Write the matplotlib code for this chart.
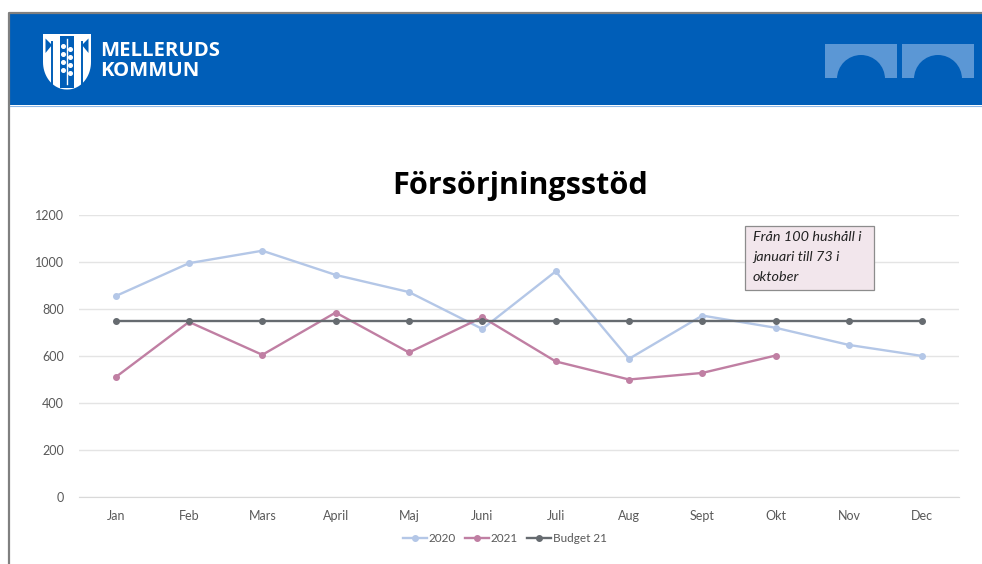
import numpy as np
import matplotlib
matplotlib.use('Agg')
import matplotlib.pyplot as plt
from matplotlib.patches import Rectangle, Polygon, Wedge

months = ['Jan', 'Feb', 'Mars', 'April', 'Maj', 'Juni', 'Juli', 'Aug', 'Sept', 'Okt', 'Nov', 'Dec']
values_2020 = [855, 995, 1048, 945, 872, 715, 960, 588, 772, 720, 647, 600]
values_2021 = [510, 745, 605, 785, 615, 765, 577, 500, 528, 602]
budget_21 = [750] * 12
yticks = [0, 200, 400, 600, 800, 1000, 1200]

W, H = 982, 564
BLUE = '#005EB8'
plt.rcParams['font.family'] = ['Lato', 'DejaVu Sans']

fig = plt.figure(figsize=(W / 100, H / 100), dpi=100, facecolor='white')

# page decoration in pixel coordinates
bg = fig.add_axes([0, 0, 1, 1])
bg.set_xlim(0, W)
bg.set_ylim(H, 0)
bg.axis('off')
bg.add_patch(Rectangle((10, 13), W - 10, 92, color=BLUE, lw=0))
bg.plot([9.5, 9.5, W], [H, 13, 13], color='#808080', lw=1.6, solid_capstyle='butt')
bg.plot([10, W], [105.5, 105.5], color='#8FB8E6', lw=0.8)

# shield
t = np.linspace(0, np.pi / 2, 20)
right = [(91 - 24 * (1 - np.cos(a)) * 0.98, 62 + 27.5 * np.sin(a)) for a in t]
left = [(43 + 24 * (1 - np.cos(a)) * 0.98, 62 + 27.5 * np.sin(a)) for a in t[::-1]]
shield = [(43, 34), (91, 34)] + right + left
bg.add_patch(Polygon(shield, closed=True, fc='white', ec='none'))
bg.add_patch(Rectangle((60, 36), 14, 52, fc=BLUE, ec='none'))
bg.plot([67, 67], [39, 84], color='white', lw=1)
for yy in [46, 54, 62, 70]:
    bg.plot([63.5, 70.5], [yy, yy + 2.5], 'o', color='white', ms=2.6)
for xx, flip in [(52, -1), (82, 1)]:
    bg.plot([xx, xx], [42, 84], color=BLUE, lw=1.4)
    bg.add_patch(Polygon([(xx, 45), (xx + flip * 6.5, 38.5), (xx + flip * 6.5, 53)], closed=True, fc=BLUE, ec='none'))
bg.text(100.5, 51.5, 'MELLERUDS', color='white', fontsize=14.6, fontweight='bold', va='center', ha='left',
        family=['Open Sans', 'DejaVu Sans'])
bg.text(100.5, 71, 'KOMMUN', color='white', fontsize=14.6, fontweight='bold', va='center', ha='left',
        family=['Open Sans', 'DejaVu Sans'])

# arches top right
for x0 in [825, 902]:
    bg.add_patch(Rectangle((x0, 44), 72.5, 33.5, fc='#5B97D5', ec='none'))
    bg.add_patch(Wedge((x0 + 36, 79), 24, 180, 360, fc=BLUE, ec='none'))
    bg.add_patch(Rectangle((x0 + 12, 77.5), 48, 3, fc=BLUE, ec='none'))

# chart
ax = fig.add_axes([79 / W, 1 - 497 / H, 880 / W, 282 / H])
ax.patch.set_alpha(0)
x = np.arange(len(months))
ax.plot(x, values_2020, color='#B4C7E7', lw=1.7, marker='o', ms=4, label='2020')
ax.plot(x[:len(values_2021)], values_2021, color='#C07FA3', lw=1.7, marker='o', ms=4, label='2021')
ax.plot(x, budget_21, color='#666B70', lw=1.7, marker='o', ms=4, label='Budget 21')
ax.set_xlim(-0.5, 11.5)
ax.set_ylim(0, 1200)
ax.set_xticks(x, months)
ax.set_yticks(yticks)
ax.grid(axis='y', color='#E4E4E4', lw=1)
ax.set_axisbelow(True)
ax.tick_params(length=0, labelsize=9, labelcolor='#595959', pad=9)
ax.tick_params(axis='y', pad=11)
for s in ['top', 'right', 'left']:
    ax.spines[s].set_visible(False)
ax.spines['bottom'].set_color('#D9D9D9')

ax.legend(loc='center', bbox_to_anchor=(0.484, -0.146), ncol=3, frameon=False, fontsize=8.5,
          labelcolor='#595959', handlelength=2.0, handletextpad=0.15, columnspacing=0.8)

bg.text(520, 186, 'Försörjningsstöd', fontsize=22.1, fontweight='bold', ha='center', va='center',
        color='black', family=['Open Sans', 'DejaVu Sans'])

# note box drawn above the chart
note = fig.add_axes([0, 0, 1, 1])
note.set_xlim(0, W)
note.set_ylim(H, 0)
note.axis('off')
note.patch.set_alpha(0)
note.add_patch(Rectangle((745.5, 225.5), 129, 64, fc='#F2E6EC', ec='#8C8C8C', lw=0.9))
note.text(753, 237, 'Från 100 hushåll i', fontsize=10.4, style='italic', color='#222222', va='center')
note.text(753, 257, 'januari till 73 i', fontsize=10.4, style='italic', color='#222222', va='center')
note.text(753, 277, 'oktober', fontsize=10.4, style='italic', color='#222222', va='center')

fig.savefig('out.png', dpi=100)
